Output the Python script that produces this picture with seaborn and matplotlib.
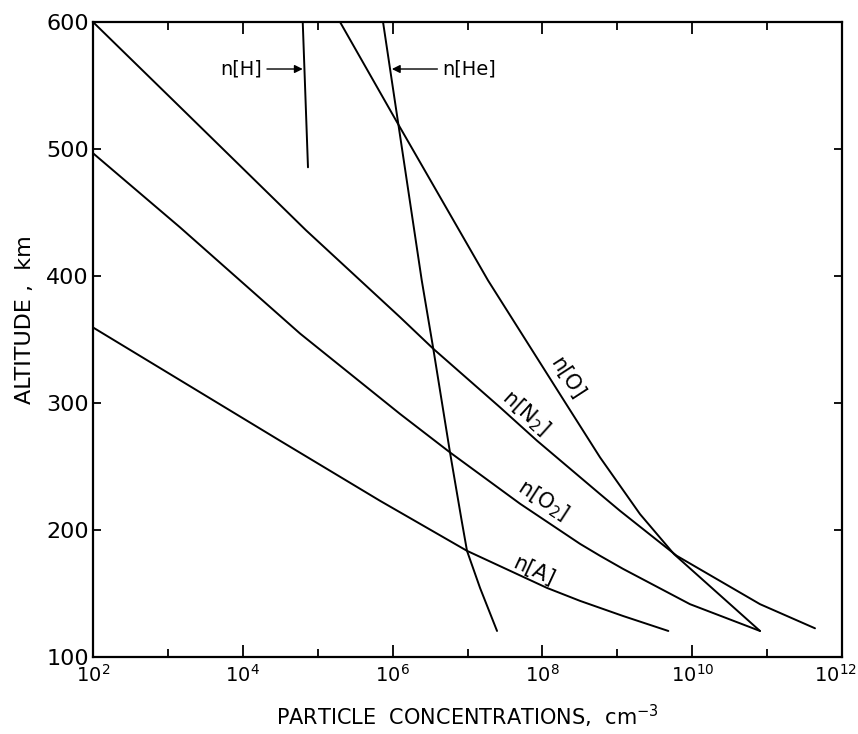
import numpy as np
import pandas as pd
import matplotlib
matplotlib.use("Agg")
import matplotlib.pyplot as plt
import matplotlib.transforms as mtransforms
import seaborn as sns

# log10 of particle concentration (cm^-3) and altitude (km)
n2_logc = [2.00, 3.068, 4.844, 6.099, 6.543, 7.434, 7.928, 8.769, 9.036, 9.793, 10.905, 11.639]
n2_alt = [600, 538.5, 436.0, 367.6, 342.7, 296.6, 270.3, 228.3, 215.1, 179.7, 141.6, 122.6]

o_logc = [5.298, 6.059, 7.274, 8.288, 8.769, 9.303, 9.757, 10.905]
o_alt = [600, 521.1, 396.5, 301.9, 257.2, 212.5, 181.0, 120.5]

o2_logc = [2.00, 3.162, 4.764, 6.099, 6.766, 7.701, 8.502, 8.769, 9.076, 9.970, 10.905]
o2_alt = [496.7, 438.3, 354.7, 291.4, 261.1, 220.7, 189.1, 179.7, 169.4, 141.6, 120.5]

ar_logc = [2.00, 4.497, 5.832, 6.993, 8.061, 8.502, 9.076, 9.681]
ar_alt = [359.5, 270.3, 223.0, 183.6, 154.4, 144.2, 132.3, 120.5]

he_logc = [5.872, 6.389, 6.543, 6.766, 6.922, 6.993, 7.167, 7.394]
he_alt = [600, 396.5, 342.7, 261.1, 207.3, 183.6, 154.4, 120.5]

h_logc = [4.80, 4.87]
h_alt = [600, 485.6]

series = {
    "N2": (n2_logc, n2_alt),
    "O": (o_logc, o_alt),
    "O2": (o2_logc, o2_alt),
    "A": (ar_logc, ar_alt),
    "He": (he_logc, he_alt),
    "H": (h_logc, h_alt),
}

rows = []
for name, (lc, al) in series.items():
    for c, a in zip(lc, al):
        rows.append({"species": name, "conc": 10.0 ** c, "alt": a})
df = pd.DataFrame(rows)

x_ticks_major = [1e2, 1e4, 1e6, 1e8, 1e10, 1e12]
x_tick_labels = ["$10^{2}$", "$10^{4}$", "$10^{6}$", "$10^{8}$", "$10^{10}$", "$10^{12}$"]
x_ticks_minor = [1e3, 1e5, 1e7, 1e9, 1e11]
y_ticks = [100, 200, 300, 400, 500, 600]

sns.set_style("ticks")
plt.rcParams["font.family"] = ["DejaVu Sans"]
plt.rcParams["mathtext.fontset"] = "dejavusans"
plt.rcParams["text.color"] = "black"
plt.rcParams["axes.labelcolor"] = "black"
plt.rcParams["xtick.color"] = "black"
plt.rcParams["ytick.color"] = "black"

fig = plt.figure(figsize=(8.58, 7.34), dpi=100)
ax = fig.add_axes([0.1084, 0.1049, 0.8730, 0.8651])

sns.lineplot(data=df, x="conc", y="alt", units="species", estimator=None,
             sort=False, color="black", linewidth=1.4, ax=ax)

ax.set_xscale("log")
ax.set_xlim(1e2, 1e12)
ax.set_ylim(100, 600)

ax.set_xticks(x_ticks_major)
ax.set_xticklabels(x_tick_labels, fontsize=14)
ax.set_xticks(x_ticks_minor, minor=True)
ax.set_xticklabels([], minor=True)
ax.set_yticks(y_ticks)
ax.set_yticklabels([str(v) for v in y_ticks], fontsize=16)

ax.tick_params(axis="x", which="major", direction="in", length=8.5, width=1.3,
               top=True, bottom=True, pad=5, colors="black")
ax.tick_params(axis="x", which="minor", direction="in", length=5.5, width=1.3,
               top=True, bottom=True, colors="black")
ax.tick_params(axis="y", which="major", direction="in", length=5.8, width=1.3,
               left=True, right=True, pad=3, colors="black")
ax.tick_params(axis="y", which="minor", left=False, right=False)

# shift the last x tick label slightly left so it stays inside the figure
last = ax.get_xticklabels()[-1]
last.set_transform(last.get_transform() +
                   mtransforms.ScaledTranslation(-7 / 100, 0, fig.dpi_scale_trans))

for s in ax.spines.values():
    s.set_linewidth(1.6)
    s.set_color("black")
    s.set_visible(True)

ax.set_xlabel("PARTICLE  CONCENTRATIONS,  cm$^{-3}$", fontsize=15, labelpad=12,
              color="black")
ax.set_ylabel("ALTITUDE ,  km", fontsize=16, color="black")
ax.yaxis.set_label_coords(-0.078, 0.532)

# curve labels
lab_kw = dict(fontsize=15, ha="center", va="center", rotation_mode="anchor",
              color="black")
ax.text(10 ** 8.33, 319.2, "n[O]", rotation=-57, **lab_kw)
ax.text(10 ** 7.78, 292.4, "n[N$_2$]", rotation=-42, **lab_kw)
ax.text(10 ** 8.01, 223.0, "n[O$_2$]", rotation=-33, **lab_kw)
ax.text(10 ** 7.89, 167.8, "n[A]", rotation=-25, **lab_kw)

arrow = dict(arrowstyle="-|>", color="black", lw=1.0, shrinkA=1, shrinkB=0,
             mutation_scale=12)
ax.annotate("n[H]", xy=(10 ** 4.80, 563), xytext=(10 ** 4.26, 563),
            ha="right", va="center", fontsize=14, color="black", arrowprops=arrow)
ax.annotate("n[He]", xy=(10 ** 5.99, 563), xytext=(10 ** 6.66, 563),
            ha="left", va="center", fontsize=14, color="black", arrowprops=arrow)

fig.savefig("out.png", dpi=100, facecolor="white")
